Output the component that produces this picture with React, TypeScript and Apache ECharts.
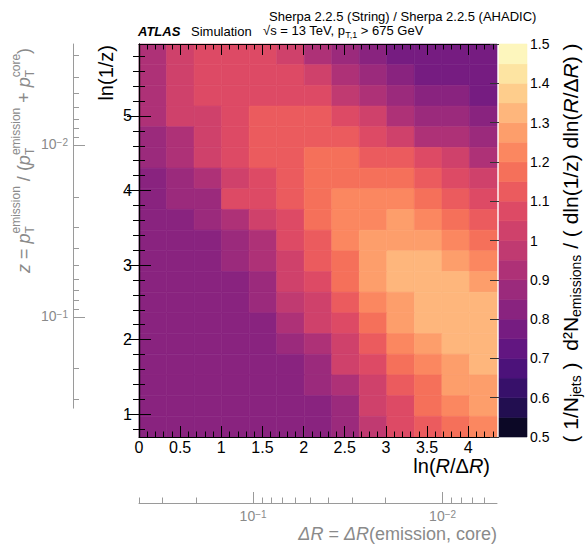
import React, { useEffect, useRef } from "react";
import * as echarts from "echarts";

// ---------------- data ----------------
const lnRdRRange = [0, 4.35]; // ln(R/ΔR)
const lnInvZRange = [0.693, 5.965]; // ln(1/z)
const nXBins = 13;
const nYBins = 19;

// String / AHADIC ratio, rows listed from the top row (largest ln(1/z)) down, columns left to right
const ratioRows = [
  [0.93, 1.03, 1.08, 1.08, 1.08, 1.03, 0.93, 0.88, 0.83, 0.78, 0.78, 0.78, 0.78],
  [0.93, 1.03, 1.08, 1.08, 1.08, 1.08, 1.03, 0.93, 0.88, 0.83, 0.78, 0.78, 0.78],
  [0.93, 1.03, 1.08, 1.08, 1.08, 1.08, 1.08, 0.98, 0.93, 0.88, 0.83, 0.83, 0.78],
  [0.93, 1.03, 1.03, 1.08, 1.13, 1.13, 1.13, 1.08, 1.03, 0.93, 0.88, 0.88, 0.83],
  [0.88, 0.93, 1.03, 1.08, 1.13, 1.13, 1.13, 1.13, 1.08, 1.03, 0.93, 0.93, 0.88],
  [0.88, 0.93, 1.03, 1.08, 1.13, 1.13, 1.18, 1.18, 1.13, 1.13, 1.08, 1.03, 0.93],
  [0.83, 0.88, 0.93, 1.03, 1.08, 1.13, 1.18, 1.18, 1.18, 1.18, 1.13, 1.08, 1.03],
  [0.83, 0.88, 0.88, 1.08, 1.08, 1.13, 1.18, 1.23, 1.23, 1.23, 1.18, 1.13, 1.08],
  [0.83, 0.83, 0.88, 0.93, 1.03, 1.08, 1.18, 1.23, 1.23, 1.28, 1.23, 1.18, 1.13],
  [0.83, 0.83, 0.83, 0.88, 0.93, 1.08, 1.13, 1.23, 1.28, 1.28, 1.28, 1.23, 1.18],
  [0.83, 0.83, 0.83, 0.88, 0.93, 1.03, 1.13, 1.18, 1.28, 1.33, 1.33, 1.28, 1.23],
  [0.83, 0.83, 0.83, 0.83, 0.88, 1.03, 1.08, 1.18, 1.28, 1.33, 1.33, 1.33, 1.28],
  [0.83, 0.83, 0.83, 0.83, 0.88, 0.98, 1.03, 1.13, 1.23, 1.28, 1.33, 1.33, 1.33],
  [0.83, 0.83, 0.83, 0.83, 0.83, 0.93, 1.03, 1.08, 1.18, 1.28, 1.33, 1.33, 1.33],
  [0.83, 0.83, 0.83, 0.83, 0.83, 0.88, 0.93, 1.03, 1.13, 1.23, 1.28, 1.33, 1.33],
  [0.83, 0.83, 0.83, 0.83, 0.83, 0.83, 0.88, 1.03, 1.08, 1.18, 1.23, 1.28, 1.33],
  [0.83, 0.83, 0.83, 0.83, 0.83, 0.83, 0.88, 0.93, 1.03, 1.13, 1.18, 1.28, 1.28],
  [0.83, 0.83, 0.83, 0.83, 0.83, 0.83, 0.83, 0.88, 1.03, 1.08, 1.18, 1.23, 1.28],
  [0.83, 0.83, 0.83, 0.83, 0.83, 0.83, 0.83, 0.88, 0.98, 1.08, 1.13, 1.18, 1.23],
];

// colour levels 0.50 .. 1.50 in steps of 0.05 (bottom to top)
const paletteColors = [
  "#0c0826", "#220e50", "#37106a", "#4c127a", "#621681",
  "#761c81", "#89237f", "#9b2a7c", "#ae3177", "#c03a71",
  "#cf416b", "#dd4a65", "#eb5b5e", "#f5705a", "#fb8760",
  "#fd9e6b", "#feb67c", "#fecd8c", "#fde4a2", "#fdf6bd",
];
const paletteMin = 0.5;
const paletteStep = 0.05;

const xMajorTicks = [0, 0.5, 1, 1.5, 2, 2.5, 3, 3.5, 4];
const yMajorTicks = [1, 2, 3, 4, 5];
const zMajorTicks = [0.1, 0.01];
const zMinorTicks = [0.3, 0.2, 0.09, 0.08, 0.07, 0.06, 0.05, 0.04, 0.03, 0.02, 0.009, 0.008, 0.007, 0.006, 0.005, 0.004, 0.003];
const dRMajorTicks = [0.1, 0.01];
const dRMinorTicks = [0.4, 0.3, 0.2, 0.09, 0.08, 0.07, 0.06, 0.05, 0.04, 0.03, 0.02, 0.009, 0.008, 0.007, 0.006];
const jetRadius = 0.4;
const grayZAxisEnd = 1.08; // ln(1/z) where the secondary z axis stops

// ---------------- styling ----------------
const FONT = '"Liberation Sans", Arial, Helvetica, sans-serif';
const GRAY = "#8a8a8a";
const GRAY_LINE = "#9a9a9a";

type Part = { t: string; f: string; dy?: number; stackWith?: { t: string; f: string; dy: number } };

function buildOption() {
  const [x0, x1] = lnRdRRange;
  const [y0, y1] = lnInvZRange;
  const bw = (x1 - x0) / nXBins;
  const bh = (y1 - y0) / nYBins;

  const cells: number[][] = [];
  ratioRows.forEach((row, r) => {
    row.forEach((v, c) => {
      const top = y1 - r * bh;
      cells.push([x0 + c * bw, x0 + (c + 1) * bw, top - bh, top, v]);
    });
  });

  const cbCells = paletteColors.map((_, i) => {
    const lo = paletteMin + i * paletteStep;
    const hi = lo + paletteStep;
    return [0, 1, lo, hi, (lo + hi) / 2];
  });

  const pieces = paletteColors.map((color, i) => ({
    gte: +(paletteMin + i * paletteStep).toFixed(2),
    lt: +(paletteMin + (i + 1) * paletteStep).toFixed(2) + (i === paletteColors.length - 1 ? 0.001 : 0),
    color,
  }));

  const xMinor: number[] = [];
  for (let i = 1; i / 10 < x1; i++) if (i % 5 !== 0) xMinor.push(i / 10);
  const yMinor: number[] = [];
  for (let k = 1; k / 5 < y1; k++) if (k / 5 > y0 && k % 5 !== 0) yMinor.push(k / 5);

  const zToY = (z: number) => Math.log(1 / z);
  const dRToX = (d: number) => Math.log(jetRadius / d);

  const plot = { left: 139, top: 44, width: 358, height: 393 };
  const pxPerY = plot.height / (y1 - y0);
  const grayHeight = (y1 - grayZAxisEnd) * pxPerY;

  const frameLine = { show: true, lineStyle: { color: "#000", width: 1.2 } };
  const tick = (len: number, values: number[], color = "#000") => ({
    show: true, inside: true, length: len, customValues: values,
    lineStyle: { color, width: 1 },
  });
  const none = { show: false };
  const base = (extra: any) => ({
    type: "value", z: 10, splitLine: none, minorTick: none, minorSplitLine: none,
    axisLabel: none, axisLine: none, ...extra,
  });

  const expLabel = (e: number) => `{b|10}{s|${e < 0 ? "\u2212" : ""}${Math.abs(e)}}`;
  const expRich = {
    b: { fontSize: 14, fontFamily: FONT, color: GRAY, lineHeight: 16, verticalAlign: "top" },
    s: { fontSize: 10, fontFamily: FONT, color: GRAY, lineHeight: 10, verticalAlign: "top" },
  };

  const renderBin = (params: any, api: any) => {
    const a = api.coord([api.value(0), api.value(2)]);
    const b = api.coord([api.value(1), api.value(3)]);
    const color = api.visual("color");
    return {
      type: "rect",
      shape: {
        x: Math.min(a[0], b[0]), y: Math.min(a[1], b[1]),
        width: Math.abs(b[0] - a[0]), height: Math.abs(b[1] - a[1]),
      },
      style: { fill: color, stroke: color, lineWidth: 0.6 },
    };
  };

  // ---- text runs with sub/superscripts, laid out with measured widths ----
  const ctx = document.createElement("canvas").getContext("2d");
  const tw = (t: string, f: string) => {
    if (!ctx) return t.length * 8;
    ctx.font = f;
    return ctx.measureText(t).width;
  };
  const run = (parts: Part[], fill: string) => {
    const kids: any[] = [];
    let cx = 0;
    parts.forEach((p) => {
      kids.push({ type: "text", x: cx, y: p.dy || 0, style: { text: p.t, font: p.f, fill, verticalAlign: "middle", align: "left" } });
      let w = tw(p.t, p.f);
      if (p.stackWith) {
        kids.push({ type: "text", x: cx, y: p.stackWith.dy, style: { text: p.stackWith.t, font: p.stackWith.f, fill, verticalAlign: "middle", align: "left" } });
        w = Math.max(w, tw(p.stackWith.t, p.stackWith.f));
      }
      cx += w;
    });
    return { kids, width: cx };
  };

  // secondary z title
  const zM = `18px ${FONT}`, zI = `italic 18px ${FONT}`, zS = `12px ${FONT}`;
  const zTitle = run([
    { t: "z", f: zI }, { t: " = ", f: zM }, { t: "p", f: zI },
    { t: "emission", f: zS, dy: -8, stackWith: { t: "T", f: zS, dy: 6 } },
    { t: " / (", f: zM }, { t: "p", f: zI },
    { t: "emission", f: zS, dy: -8, stackWith: { t: "T", f: zS, dy: 6 } },
    { t: " + ", f: zM }, { t: "p", f: zI },
    { t: "core", f: zS, dy: -8, stackWith: { t: "T", f: zS, dy: 6 } },
    { t: ")", f: zM },
  ], GRAY);

  // energy / cut line
  const hM = `13px ${FONT}`, hS = `9px ${FONT}`;
  const header2 = run([
    { t: "\u221As = 13 TeV, p", f: hM }, { t: "T,1", f: hS, dy: 5 }, { t: " > 675 GeV", f: hM },
  ], "#000");

  // colour-bar title
  const cM = `21px ${FONT}`, cI = `italic 21px ${FONT}`, cS = `14px ${FONT}`;
  const cbTitle = run([
    { t: "( 1/N", f: cM }, { t: "jets", f: cS, dy: 6 }, { t: " )  d\u00B2N", f: cM },
    { t: "emissions", f: cS, dy: 6 }, { t: " / ( dln(1/z) dln(", f: cM },
    { t: "R", f: cI }, { t: "/\u0394", f: cM }, { t: "R", f: cI }, { t: ") )", f: cM },
  ], "#000");

  const n = (size: number, extra: any = {}) => ({ fontSize: size, fontFamily: FONT, fill: "#000", ...extra });

  return {
    animation: false,
    grid: [
      { ...plot, containLabel: false, outerBoundsMode: "none" },
      { left: 499, top: 44, width: 28, height: 393, containLabel: false, outerBoundsMode: "none" },
      { left: 73, top: 44, width: 20, height: grayHeight, containLabel: false, outerBoundsMode: "none" },
    ],
    xAxis: [
      base({
        gridIndex: 0, position: "bottom", min: x0, max: x1, axisLine: frameLine,
        axisTick: tick(11, xMajorTicks),
        axisLabel: { show: true, customValues: xMajorTicks, margin: 3, fontSize: 16, lineHeight: 15, color: "#000", fontFamily: FONT, formatter: (v: number) => String(v) },
      }),
      base({ gridIndex: 0, position: "bottom", min: x0, max: x1, axisTick: tick(5.5, xMinor) }),
      base({ gridIndex: 0, position: "top", min: x0, max: x1, axisLine: frameLine, axisTick: tick(11, xMajorTicks) }),
      base({ gridIndex: 0, position: "top", min: x0, max: x1, axisTick: tick(5.5, xMinor) }),
      base({
        gridIndex: 0, position: "bottom", offset: 66, min: x0, max: x1,
        axisLine: { show: true, lineStyle: { color: GRAY_LINE, width: 1 } },
        axisTick: tick(11, dRMajorTicks.map(dRToX), GRAY_LINE),
        axisLabel: {
          show: true, customValues: dRMajorTicks.map(dRToX), margin: 6, rich: expRich,
          formatter: (v: number) => expLabel(Math.round(Math.log10(jetRadius * Math.exp(-v)))),
        },
      }),
      base({ gridIndex: 0, position: "bottom", offset: 66, min: x0, max: x1, axisTick: tick(5.5, dRMinorTicks.map(dRToX), GRAY_LINE) }),
      { type: "value", gridIndex: 1, min: 0, max: 1, show: false },
      { type: "value", gridIndex: 2, min: 0, max: 1, show: false },
    ],
    yAxis: [
      base({
        gridIndex: 0, position: "left", min: y0, max: y1, axisLine: frameLine,
        axisTick: tick(12, yMajorTicks),
        axisLabel: { show: true, customValues: yMajorTicks, margin: 7, fontSize: 16, color: "#000", fontFamily: FONT, formatter: (v: number) => String(v) },
      }),
      base({ gridIndex: 0, position: "left", min: y0, max: y1, axisTick: tick(6, yMinor) }),
      base({ gridIndex: 0, position: "right", min: y0, max: y1, axisLine: frameLine, axisTick: tick(12, yMajorTicks) }),
      base({ gridIndex: 0, position: "right", min: y0, max: y1, axisTick: tick(6, yMinor) }),
      base({
        gridIndex: 1, position: "right", min: paletteMin, max: paletteMin + paletteColors.length * paletteStep, interval: 0.1,
        axisTick: { show: true, inside: true, length: 9, lineStyle: { color: "#333", width: 1 } },
        axisLabel: { show: true, margin: 3, fontSize: 14, color: "#000", fontFamily: FONT },
      }),
      base({
        gridIndex: 2, position: "left", min: grayZAxisEnd, max: y1,
        axisLine: { show: true, lineStyle: { color: GRAY_LINE, width: 1 } },
        axisTick: tick(12, zMajorTicks.map(zToY), GRAY_LINE),
        axisLabel: {
          show: true, customValues: zMajorTicks.map(zToY), margin: 5, rich: expRich,
          formatter: (v: number) => expLabel(Math.round(-v / Math.LN10)),
        },
      }),
      base({ gridIndex: 2, position: "left", min: grayZAxisEnd, max: y1, axisTick: tick(6, zMinorTicks.map(zToY), GRAY_LINE) }),
    ],
    visualMap: {
      type: "piecewise", show: false, dimension: 4, seriesIndex: [0, 1], pieces,
    },
    series: [
      {
        type: "custom", coordinateSystem: "cartesian2d", xAxisIndex: 0, yAxisIndex: 0,
        renderItem: renderBin, data: cells, encode: { x: [0, 1], y: [2, 3] }, silent: true,
      },
      {
        type: "custom", coordinateSystem: "cartesian2d", xAxisIndex: 6, yAxisIndex: 4,
        renderItem: renderBin, data: cbCells, encode: { x: [0, 1], y: [2, 3] }, silent: true,
      },
    ],
    graphic: [
      { type: "text", x: 138, y: 31, style: { text: "ATLAS", font: `italic bold 13px ${FONT}`, fill: "#000", verticalAlign: "middle" } },
      { type: "text", x: 191, y: 31, style: { text: "Simulation", font: `13px ${FONT}`, fill: "#000", verticalAlign: "middle" } },
      { type: "text", x: 269, y: 16, style: { text: "Sherpa 2.2.5 (String) / Sherpa 2.2.5 (AHADIC)", font: `13px ${FONT}`, fill: "#000", verticalAlign: "middle" } },
      { type: "group", x: 263, y: 30, children: header2.kids },
      { type: "text", x: 106, y: 45, rotation: Math.PI / 2, style: { text: "ln(1/z)", font: `20px ${FONT}`, fill: "#000", align: "right", verticalAlign: "middle" } },
      {
        type: "text", x: 490, y: 466,
        style: {
          text: "{n|ln(}{i|R}{n|/\u0394}{i|R}{n|)}", align: "right", verticalAlign: "middle",
          rich: { n: n(20, { lineHeight: 18 }), i: n(20, { fontStyle: "italic", lineHeight: 18 }) },
        },
      },
      { type: "group", x: 570, y: 243 + cbTitle.width / 2, rotation: Math.PI / 2, children: cbTitle.kids },
      { type: "group", x: 24, y: 273, rotation: Math.PI / 2, children: zTitle.kids },
      {
        type: "text", x: 497, y: 534,
        style: {
          text: "{i|\u0394R}{n| = }{i|\u0394R}{n|(emission, core)}", align: "right", verticalAlign: "middle",
          rich: { n: n(18, { fill: GRAY }), i: n(18, { fill: GRAY, fontStyle: "italic" }) },
        },
      },
    ],
  };
}

export default function App() {
  const ref = useRef<HTMLDivElement>(null);
  useEffect(() => {
    document.body.style.margin = "0";
    const chart = echarts.init(ref.current!, null, { renderer: "svg" });
    chart.setOption(buildOption() as any);
    return () => chart.dispose();
  }, []);
  return <div ref={ref} style={{ width: 586, height: 547 }} />;
}
